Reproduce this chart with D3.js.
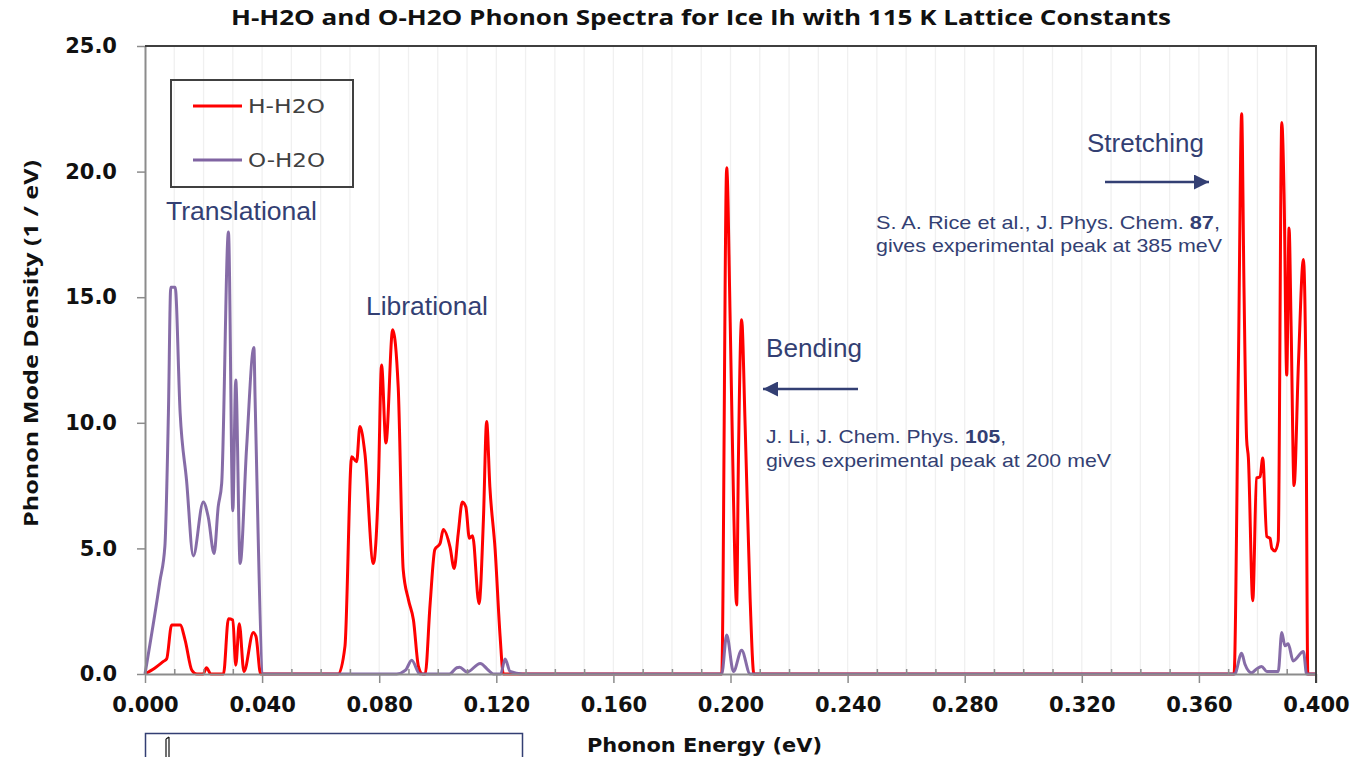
<!DOCTYPE html>
<html>
<head>
<meta charset="utf-8">
<script src="https://cdn.jsdelivr.net/npm/d3@7"></script>
<style>
  html, body { margin: 0; padding: 0; background: #fff; }
  svg { display: block; }
</style>
</head>
<body>
<svg id="chart" width="1354" height="757"></svg>
<script>
// Phonon mode density (1/eV) versus phonon energy (eV)
const hEnergy = [
  0.0000, 0.0034, 0.0063, 0.0074, 0.0091, 0.0120, 0.0137, 0.0160, 0.0177, 0.0199,
  0.0210, 0.0225, 0.0268, 0.0285, 0.0300, 0.0310, 0.0322, 0.0338, 0.0370, 0.0379,
  0.0395, 0.0660, 0.0683, 0.0706, 0.0723, 0.0734, 0.0751, 0.0780, 0.0797, 0.0808,
  0.0823, 0.0846, 0.0865, 0.0882, 0.0900, 0.0917, 0.0934, 0.0948, 0.0957, 0.0974,
  0.0990, 0.1008, 0.1019, 0.1042, 0.1056, 0.1070, 0.1084, 0.1096, 0.1108, 0.1119,
  0.1141, 0.1156, 0.1167, 0.1178, 0.1196, 0.1213, 0.1224, 0.1970, 0.1987, 0.1999,
  0.2010, 0.2021, 0.2027, 0.2038, 0.2050, 0.2067, 0.2080, 0.3720, 0.3735, 0.3746,
  0.3754, 0.3763, 0.3769, 0.3784, 0.3797, 0.3809, 0.3818, 0.3832, 0.3843, 0.3849,
  0.3860, 0.3871, 0.3883, 0.3891, 0.3900, 0.3908, 0.3915, 0.3925, 0.3940, 0.3957,
  0.3965, 0.3972, 0.4000
];
const hDensity = [
  0.00, 0.24, 0.50, 0.60, 1.95, 1.95, 1.35, 0.15, 0.00, 0.00,
  0.25, 0.00, 0.00, 2.20, 2.15, 0.35, 2.00, 0.10, 1.65, 1.50,
  0.00, 0.00, 1.10, 8.65, 8.45, 9.85, 8.80, 4.40, 7.45, 12.30,
  9.20, 13.70, 11.40, 4.15, 2.95, 2.15, 0.30, 0.00, 0.00, 2.80,
  4.95, 5.20, 5.75, 5.05, 4.20, 5.60, 6.85, 6.65, 5.40, 5.50,
  2.80, 6.15, 10.05, 7.45, 4.95, 1.50, 0.00, 0.00, 20.15, 14.00,
  7.10, 2.75, 8.50, 14.10, 9.90, 3.00, 0.00, 0.00, 12.36, 22.30,
  15.40, 9.35, 8.60, 2.92, 7.80, 7.85, 8.60, 5.47, 5.40, 5.00,
  4.90, 5.30, 21.95, 19.10, 11.90, 17.75, 13.85, 7.50, 12.36, 16.50,
  12.36, 0.00, 0.00
];

const oEnergy = [
  0.0000, 0.0051, 0.0068, 0.0080, 0.0088, 0.0103, 0.0120, 0.0142, 0.0165, 0.0199,
  0.0216, 0.0236, 0.0250, 0.0262, 0.0285, 0.0300, 0.0310, 0.0325, 0.0347, 0.0372,
  0.0376, 0.0404, 0.0860, 0.0890, 0.0911, 0.0939, 0.1040, 0.1065, 0.1075, 0.1100,
  0.1145, 0.1173, 0.1190, 0.1215, 0.1230, 0.1247, 0.1290, 0.1970, 0.1987, 0.2010,
  0.2038, 0.2067, 0.3722, 0.3746, 0.3757, 0.3780, 0.3797, 0.3814, 0.3832, 0.3871,
  0.3883, 0.3894, 0.3905, 0.3922, 0.3957, 0.3968, 0.4000
];
const oDensity = [
  0.00, 3.70, 5.10, 10.40, 15.40, 15.40, 10.40, 7.70, 4.70, 6.85,
  6.25, 4.80, 6.65, 7.60, 17.60, 6.50, 11.70, 4.40, 9.00, 13.00,
  11.00, 0.00, 0.00, 0.15, 0.55, 0.00, 0.00, 0.25, 0.27, 0.08,
  0.42, 0.15, 0.00, 0.00, 0.60, 0.10, 0.00, 0.00, 1.55, 0.10,
  0.95, 0.00, 0.00, 0.83, 0.40, 0.05, 0.20, 0.30, 0.10, 0.10,
  1.65, 1.12, 1.20, 0.52, 0.90, 0.00, 0.00
];

const seriesNames = ["H-H2O", "O-H2O"];
const seriesColors = ["#ff0000", "#8064a2"];
const xMajorTicks = [0, 0.04, 0.08, 0.12, 0.16, 0.20, 0.24, 0.28, 0.32, 0.36, 0.40];
const yTicks = [0, 5, 10, 15, 20, 25];

const chartTitle = "H-H2O and O-H2O Phonon Spectra for Ice Ih with 115 K Lattice Constants";
const xTitle = "Phonon Energy (eV)";
const yTitle = "Phonon Mode Density (1 / eV)";

const svg = d3.select("#chart");
const plotLeft = 145, plotRight = 1316, plotTop = 46, plotBottom = 674;

const x = d3.scaleLinear().domain([0, 0.4]).range([plotLeft, plotRight]);
const y = d3.scaleLinear().domain([0, 25]).range([plotBottom, plotTop]);

const navy = "#333f73";

// vertical grid every 0.01 eV
const gridVals = d3.range(1, 40).map(i => i / 100);
svg.append("g").selectAll("line").data(gridVals).join("line")
  .attr("x1", d => x(d)).attr("x2", d => x(d))
  .attr("y1", plotTop).attr("y2", plotBottom)
  .attr("stroke", "#f0f0f0").attr("stroke-width", 1.3);

// spectra
const line = d3.line().x(d => x(d[0])).y(d => y(d[1])).curve(d3.curveMonotoneX);
const hData = hEnergy.map((e, i) => [e, hDensity[i]]);
const oData = oEnergy.map((e, i) => [e, oDensity[i]]);

svg.append("path").datum(hData)
  .attr("d", line).attr("fill", "none")
  .attr("stroke", seriesColors[0]).attr("stroke-width", 3)
  .attr("stroke-linejoin", "round");
svg.append("path").datum(oData)
  .attr("d", line).attr("fill", "none")
  .attr("stroke", seriesColors[1]).attr("stroke-width", 3)
  .attr("stroke-opacity", 0.95)
  .attr("stroke-linejoin", "round");

// x axis: minor ticks inside, labelled major ticks outside
const minorVals = d3.range(0, 41).map(i => i / 100).filter(v => Math.round(v * 100) % 4 !== 0);
svg.append("g").attr("transform", `translate(0,${plotBottom})`)
  .call(d3.axisBottom(x).tickValues(minorVals).tickSize(-5).tickFormat(""))
  .call(g => g.select(".domain").remove())
  .call(g => g.selectAll("line").attr("stroke", "#8c8c8c").attr("stroke-width", 1.5));

const xAxis = svg.append("g").attr("transform", `translate(0,${plotBottom})`)
  .call(d3.axisBottom(x).tickValues(xMajorTicks).tickFormat(d3.format(".3f"))
    .tickSizeInner(9).tickSizeOuter(0).tickPadding(14));
xAxis.select(".domain").attr("stroke", "#8c8c8c").attr("stroke-width", 2);
xAxis.selectAll("line").attr("stroke", "#8c8c8c").attr("stroke-width", 1.5);
xAxis.selectAll("text")
  .attr("font-family", "DejaVu Sans").attr("font-weight", "bold")
  .attr("font-size", 21).attr("fill", "#111");

// y axis
const yAxis = svg.append("g").attr("transform", `translate(${plotLeft},0)`)
  .call(d3.axisLeft(y).tickValues(yTicks).tickFormat(d3.format(".1f"))
    .tickSizeInner(8).tickSizeOuter(0).tickPadding(20));
yAxis.select(".domain").attr("stroke", "#8c8c8c").attr("stroke-width", 2);
yAxis.selectAll("line").attr("stroke", "#8c8c8c").attr("stroke-width", 1.5);
yAxis.selectAll("text")
  .attr("font-family", "DejaVu Sans").attr("font-weight", "bold")
  .attr("font-size", 21).attr("fill", "#111");

// top and right frame
svg.append("path")
  .attr("d", `M${plotLeft},${plotTop}H${plotRight}V${plotBottom + 9}`)
  .attr("fill", "none").attr("stroke", "#3f3f3f").attr("stroke-width", 2);

// titles
svg.append("text").text(chartTitle)
  .attr("x", 231).attr("y", 25)
  .attr("font-family", "Open Sans").attr("font-weight", "bold").attr("font-size", 21)
  .attr("textLength", 940).attr("lengthAdjust", "spacingAndGlyphs").attr("fill", "#111");

svg.append("text").text(xTitle)
  .attr("x", 587).attr("y", 752)
  .attr("font-family", "DejaVu Sans").attr("font-weight", "bold").attr("font-size", 19)
  .attr("textLength", 235).attr("lengthAdjust", "spacingAndGlyphs").attr("fill", "#111");

svg.append("text").text(yTitle)
  .attr("transform", "translate(38,527) rotate(-90)")
  .attr("font-family", "Open Sans").attr("font-weight", "bold").attr("font-size", 20)
  .attr("textLength", 367).attr("lengthAdjust", "spacingAndGlyphs").attr("fill", "#111");

// legend
const legend = svg.append("g");
legend.append("rect").attr("x", 171).attr("y", 80).attr("width", 182).attr("height", 107)
  .attr("fill", "none").attr("stroke", "#404040").attr("stroke-width", 2);
const legendY = [106, 160];
seriesNames.forEach((name, i) => {
  legend.append("line").attr("x1", 193).attr("x2", 242)
    .attr("y1", legendY[i]).attr("y2", legendY[i])
    .attr("stroke", seriesColors[i]).attr("stroke-width", 3);
  legend.append("text").text(name)
    .attr("x", 248).attr("y", legendY[i] + 7)
    .attr("font-family", "DejaVu Sans").attr("font-size", 20)
    .attr("textLength", 77).attr("lengthAdjust", "spacingAndGlyphs")
    .attr("fill", "#404040");
});

// band labels
const bandLabels = [
  { text: "Translational", x: 166, y: 220, w: 151 },
  { text: "Librational", x: 366, y: 315, w: 122 },
  { text: "Bending", x: 766, y: 357, w: 96 },
  { text: "Stretching", x: 1087, y: 152, w: 117 }
];
svg.append("g").selectAll("text").data(bandLabels).join("text")
  .text(d => d.text)
  .attr("x", d => d.x).attr("y", d => d.y)
  .attr("font-family", "Liberation Sans").attr("font-size", 26)
  .attr("textLength", d => d.w).attr("lengthAdjust", "spacingAndGlyphs")
  .attr("fill", navy);

// reference notes with bold volume numbers
function note(xp, yp, parts, width) {
  const t = svg.append("text").attr("x", xp).attr("y", yp)
    .attr("font-family", "Liberation Sans").attr("font-size", 19)
    .attr("fill", navy)
    .attr("textLength", width).attr("lengthAdjust", "spacingAndGlyphs");
  parts.forEach(p => t.append("tspan").text(p[0]).attr("font-weight", p[1] ? "bold" : "normal"));
}
note(766, 443, [["J. Li, J. Chem. Phys. ", false], ["105", true], [",", false]], 240);
note(766, 467, [["gives experimental peak at 200 meV", false]], 345);
note(876, 229, [["S. A. Rice et al., J. Phys. Chem. ", false], ["87", true], [",", false]], 344);
note(876, 252, [["gives experimental peak at 385 meV", false]], 346);

// arrows
const defs = svg.append("defs");
defs.append("marker").attr("id", "head")
  .attr("viewBox", "0 0 10 10").attr("refX", 10).attr("refY", 5)
  .attr("markerWidth", 6).attr("markerHeight", 6).attr("markerUnits", "strokeWidth")
  .attr("orient", "auto")
  .append("path").attr("d", "M0,0L10,5L0,10z").attr("fill", navy);

svg.append("line").attr("x1", 858).attr("y1", 389).attr("x2", 763).attr("y2", 389)
  .attr("stroke", navy).attr("stroke-width", 2.5).attr("marker-end", "url(#head)");
svg.append("line").attr("x1", 1105).attr("y1", 182).attr("x2", 1209).attr("y2", 182)
  .attr("stroke", navy).attr("stroke-width", 2.5).attr("marker-end", "url(#head)");

// inset frame along the bottom edge
svg.append("rect").attr("x", 145.5).attr("y", 733.5).attr("width", 377).attr("height", 40)
  .attr("fill", "none").attr("stroke", navy).attr("stroke-width", 1.5);
svg.append("path").attr("d", "M166,757V739M169,757V737M166,739L169,737")
  .attr("fill", "none").attr("stroke", "#111").attr("stroke-width", 1.2);
</script>
</body>
</html>
